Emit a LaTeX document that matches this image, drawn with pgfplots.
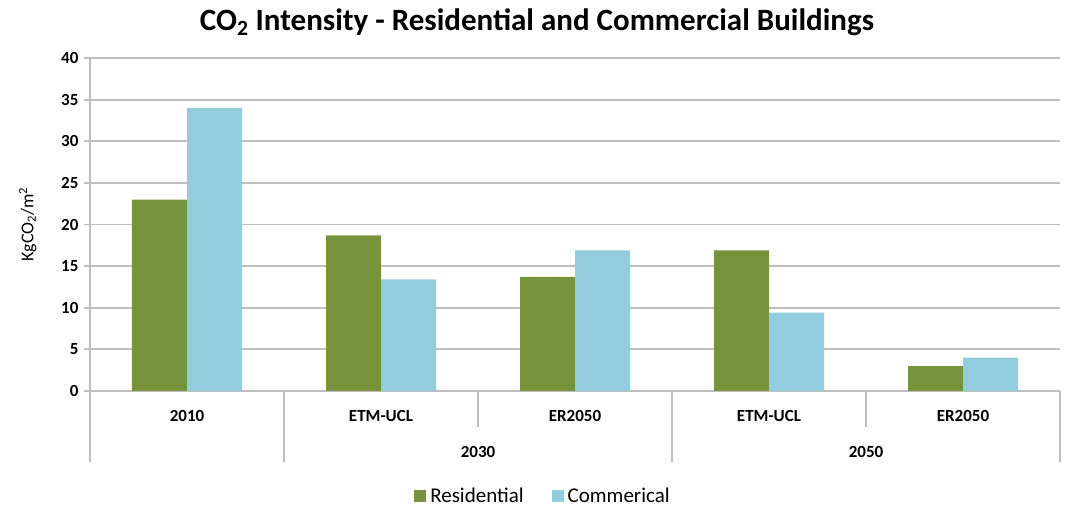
\documentclass[border=0pt]{standalone}
\usepackage{pgfplots}
\pgfplotsset{compat=1.18}
\usepackage{fontspec}
\setmainfont{Carlito}
\definecolor{resgreen}{HTML}{77933C}
\definecolor{comblue}{HTML}{93CDDD}
\definecolor{gridgray}{HTML}{BEBEBE}
\begin{document}
\begin{tikzpicture}[x=1pt,y=1pt]
\begin{axis}[
  at={(90pt,115pt)}, anchor=south west,
  scale only axis, width=970pt, height=333pt,
  xmin=-0.5, xmax=4.5, ymin=0, ymax=40,
  ybar=0pt, bar width=55pt,
  xtick=\empty,
  ytick={0,5,...,40},
  ymajorgrids, major grid style={gridgray, line width=1.8pt},
  axis lines*=left,
  axis line style={gridgray, line width=1.8pt},
  y tick style={gridgray, line width=1.8pt},
  tick align=outside, major tick length=6pt,
  yticklabel style={font=\fontsize{17}{19}\selectfont\bfseries, xshift=-2pt},
  /pgf/number format/assume math mode=true,
  ylabel={KgCO\textsubscript{2}/m\textsuperscript{2}},
  ylabel style={font=\fontsize{18}{20}\selectfont, at={(axis description cs:0,0.5)}, anchor=south, yshift=50pt},
  clip=false,
  legend style={at={(0.467,-0.315)}, anchor=center, draw=none, legend columns=2,
    font=\fontsize{21}{23}\selectfont, /tikz/every even column/.append style={column sep=26pt},
    /tikz/every odd column/.append style={column sep=2pt}},
  legend image code/.code={\fill[#1,draw=none] (0pt,-6pt) rectangle (12pt,6pt);},
]
\addplot[fill=resgreen, draw=none] coordinates {(0,23) (1,18.7) (2,13.7) (3,16.9) (4,3)};
\addlegendentry{Residential}
\addplot[fill=comblue, draw=none] coordinates {(0,34) (1,13.4) (2,16.9) (3,9.4) (4,4)};
\addlegendentry{Commerical}
\draw[gridgray, line width=1.8pt] (axis cs:-0.5,0) -- ([yshift=-71pt]axis cs:-0.5,0);
\draw[gridgray, line width=1.8pt] (axis cs:0.5,0) -- ([yshift=-71pt]axis cs:0.5,0);
\draw[gridgray, line width=1.8pt] (axis cs:1.5,0) -- ([yshift=-36pt]axis cs:1.5,0);
\draw[gridgray, line width=1.8pt] (axis cs:2.5,0) -- ([yshift=-71pt]axis cs:2.5,0);
\draw[gridgray, line width=1.8pt] (axis cs:3.5,0) -- ([yshift=-36pt]axis cs:3.5,0);
\draw[gridgray, line width=1.8pt] (axis cs:4.5,0) -- ([yshift=-71pt]axis cs:4.5,0);
\begin{scope}[every node/.style={font=\fontsize{17}{19}\selectfont\bfseries}]
\node at ([yshift=-25pt]axis cs:0,0) {2010};
\node at ([yshift=-25pt]axis cs:1,0) {ETM-UCL};
\node at ([yshift=-25pt]axis cs:2,0) {ER2050};
\node at ([yshift=-25pt]axis cs:3,0) {ETM-UCL};
\node at ([yshift=-25pt]axis cs:4,0) {ER2050};
\node at ([yshift=-61pt]axis cs:1.5,0) {2030};
\node at ([yshift=-61pt]axis cs:3.5,0) {2050};
\end{scope}
\end{axis}
\node[font=\fontsize{31}{35}\selectfont\bfseries] at (537pt,484pt) {CO\textsubscript{2} Intensity - Residential and Commercial Buildings};
\pgfresetboundingbox
\path[use as bounding box] (0pt,0pt) rectangle (1074pt,506pt);
\end{tikzpicture}
\end{document}
